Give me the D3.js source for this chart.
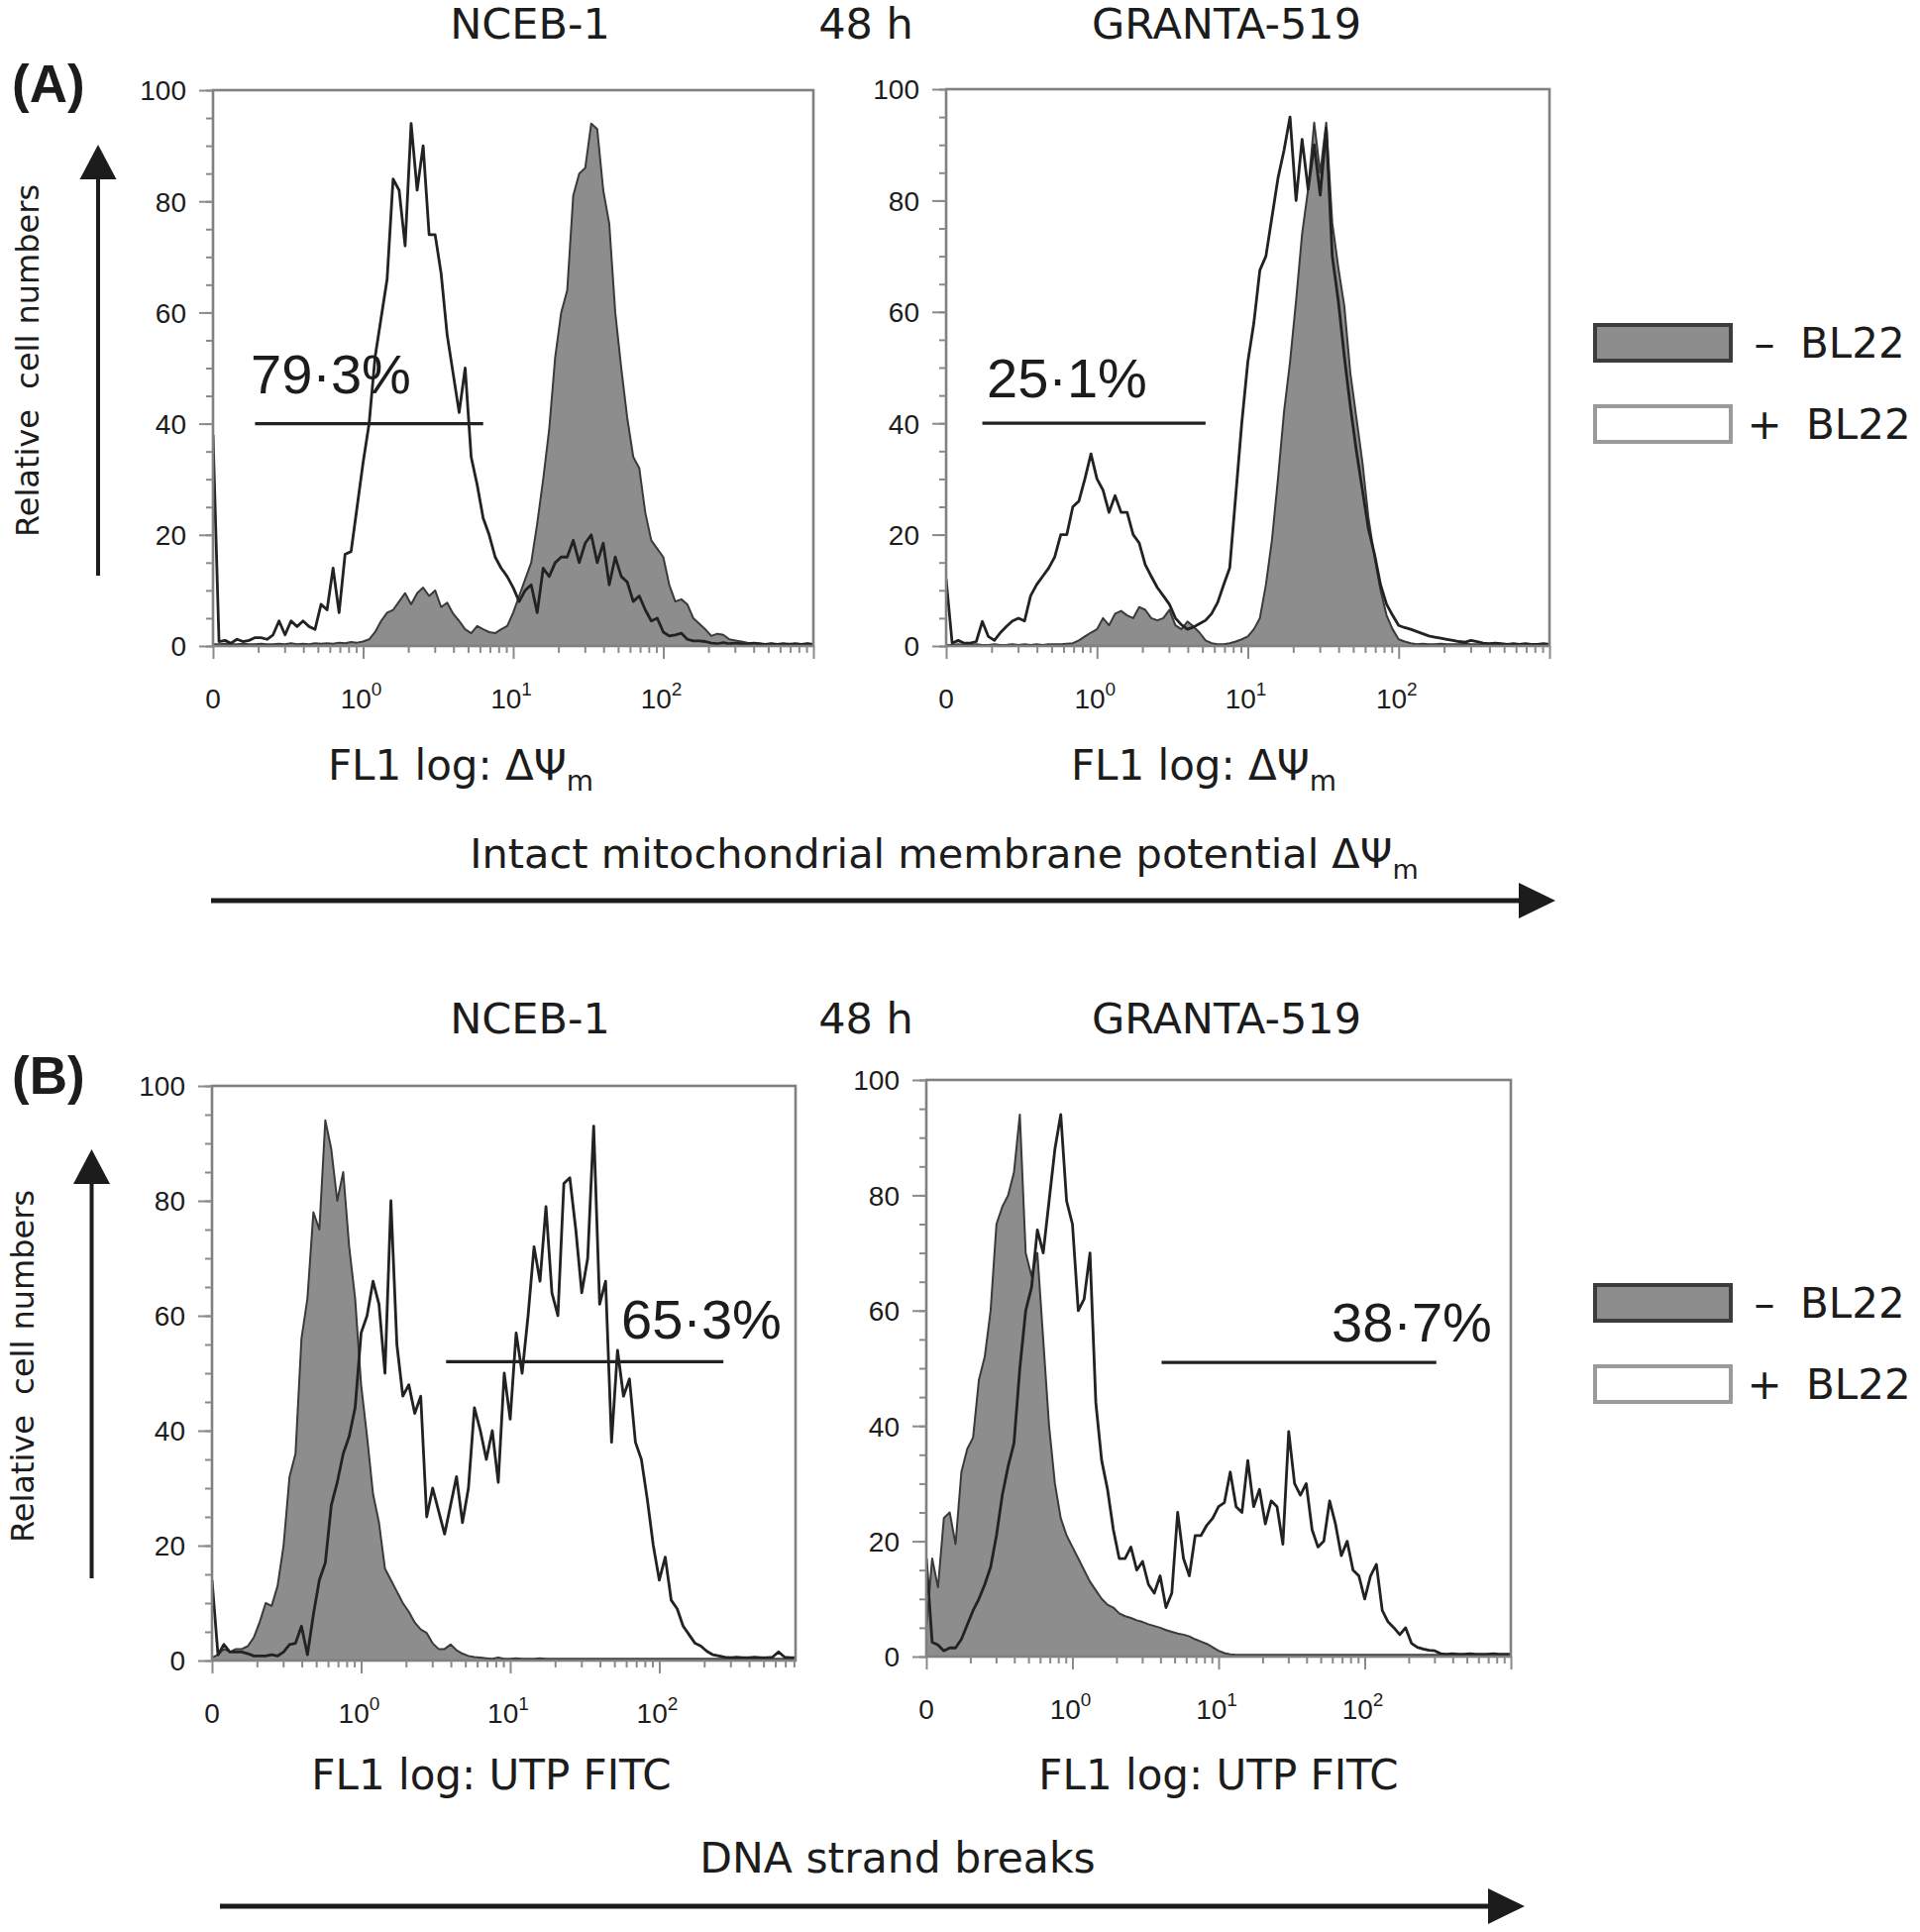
<!DOCTYPE html>
<html><head><meta charset="utf-8">
<script src="https://cdn.jsdelivr.net/npm/d3@7"></script>
<style>
html,body{margin:0;padding:0;background:#fff;}
svg{display:block;}
</style></head><body>
<svg id="chart" width="1938" height="1950"></svg>
<script>
// ---------------- DATA ----------------
// channels: log10 position of first channel and channel width (decades)
const channelStart = -1;
const channelStep = 0.04;

// Panel A, NCEB-1 (mitochondrial membrane potential)
const aNcebMinus = [0.3,0.3,0.4,0.3,0.3,0.4,0.3,0.3,0.4,0.3, 0.3,0.4,0.3,0.5,0.3,0.4,0.3,0.5,0.4,0.5,
  0.4,0.6,0.5,0.7,0.6,0.8,1.2,2.5,4.5,6, 6.5,8,9.5,7.5,9.5,10.5,9,10,7,7.8,
  5.8,4.5,3,2.3,3.6,3,2.5,2.3,3,3.6, 6,9,12,15,22,30,39,52,60,64,
  81,85,86,94,93,82,76,60,50,41, 34,32,24,19,17.5,16,11,8,8.4,7.5,
  5,4,3,1.8,2.2,2,1.2,1,0.8,0.6, 0.5,0.4,0.3,0.4,0.3,0.3,0.4,0.3,0.3,0.4,0.3];
const aNcebPlus = [38,0.8,1,0.5,1.2,0.8,1,1.5,1.5,1.2, 2,4.5,2,4.5,3.5,4.5,3.5,3,7.5,6.5,
  14,6,16.5,17,25,33,40,52,59,66, 84,82,72,94,82,90,74,74,67,56,
  49,42,50,34,29,23,20,16,14,12.5, 10.5,8,10,11,6,14,12.5,15,16,16,
  19,15,18.5,20,15,18.5,11,16,12.5,11.5, 8,9,6.5,4.5,5,2.5,1.8,2,2.3,1.2,
  0.9,0.9,0.8,0.5,0.4,0.6,0.4,0.5,0.4,0.3, 0.5,0.4,0.3,0.4,0.3,0.4,0.3,0.4,0.3,0.4,0.3];

// Panel A, GRANTA-519
const aGrantaMinus = [0.2,0.2,0.3,0.2,0.2,0.3,0.2,0.2,0.3,0.2, 0.2,0.3,0.2,0.3,0.2,0.3,0.2,0.3,0.3,0.3,
  0.4,0.5,1,1.7,2.4,3,5,3.7,5.8,6.3, 5.5,5,7,6.5,5,4.6,5,6.5,3.7,3,
  4.4,3.5,2.4,1,0.5,0.3,0.3,0.5,0.8,1.2, 1.7,3,5,11,19,30,42,51,62,74,
  82,94,85,94,76,68,61,49,41,33, 23,16,10,5.5,3,1.2,0.8,0.5,0.3,0.4,
  0.3,0.3,0.4,0.3,0.3,0.3,0.4,0.3,0.3,0.3, 0.3,0.3,0.3,0.3,0.3,0.3,0.3,0.3,0.3,0.3,0.3];
const aGrantaPlus = [12,0.5,1,0.5,0.5,0.8,4.4,1.7,1,2.4, 3.5,4.5,5,4.5,9,11,12.5,14,16,20,
  20,25,26,30,34.5,30,28,24,27,24, 24,20,18.5,14.6,12.5,10.5,9,7.5,5,3.8,
  3,3.4,4,4.6,5.8,7.8,11,14,27,40, 51,58,67.5,70,77,84,89,95,80,91,
  82,90,81,93,70,62,52,43,35,28, 21,16.5,11,7.5,5.5,3.7,3.3,3,2.6,2.2,
  1.8,1.6,1.4,1.2,1,0.8,0.7,1,0.8,0.5, 0.4,0.5,0.4,0.3,0.4,0.3,0.4,0.3,0.3,0.4,0.3];

// Panel B, NCEB-1 (DNA strand breaks)
const bNcebMinus = [0.5,1,2,1.5,2,2,2.5,4,6.7,10, 9.5,13,20,32,36,56,63,78,75,94,
  89,80,85,72,63,48,39,29,24,16, 14,12,10,8.5,6.6,5.4,4.8,3,2,2,
  2.8,1.8,1.2,0.8,0.6,0.5,0.4,0.3,0.5,0.3, 0.3,0.4,0.3,0.3,0.3,0.4,0.3,0.3,0.3,0.3,
  0.3,0.3,0.3,0.3,0.3,0.3,0.3,0.3,0.3,0.3, 0.3,0.3,0.3,0.3,0.3,0.3,0.3,0.3,0.3,0.3,
  0.3,0.3,0.3,0.3,0.3,0.3,0.3,0.3,0.3,0.3, 0.3,0.3,0.3,0.3,0.3,0.3,0.3,0.3,0.3,0.3,0.3];
const bNcebPlus = [14,1,2.8,1.5,1.5,1.5,1.2,0.8,0.8,0.8, 1,0.8,1.5,2.8,3,6,1,8,14,17,
  27,31,36,39,44,57,60,66,62,50, 80,55,46,48,43,46,25,30,26,22,
  27,32,24,30,44,40,35,40,31,50, 42,57,50,60,72,66,79,64,60,83,
  84,75,64,70,93,62,66,38,54,46, 49,38,35,28,20,14,18,10.5,9,6,
  4.5,3,2.5,1.6,1,0.8,0.6,0.5,0.6,0.5, 0.5,0.6,0.5,0.5,0.6,1.5,0.6,0.5,0.5,0.5,0.5];

// Panel B, GRANTA-519
const bGrantaMinus = [5,17,12,24,25,19.5,32,36,38,48, 52,60,75,78,80,84,94,70,66,70,
  55,40,30,24,21,19,17,15,13,11.5, 10,9,8.5,7.5,7,6.7,6.3,6,5.6,5.3,
  5,4.6,4.3,4,3.8,3.5,3,2.6,2.2,1.6, 1,0.6,0.4,0.3,0.3,0.3,0.3,0.3,0.3,0.3,
  0.3,0.3,0.3,0.3,0.3,0.3,0.3,0.3,0.3,0.3, 0.3,0.3,0.3,0.3,0.3,0.3,0.3,0.3,0.3,0.3,
  0.3,0.3,0.3,0.3,0.3,0.3,0.3,0.3,0.3,0.3, 0.3,0.3,0.3,0.3,0.3,0.3,0.3,0.3,0.3,0.3,0.3];
const bGrantaPlus = [17,2.5,2,1,1.5,1.5,3,5.5,8,10, 12.5,15.5,21,28,33,37,50,60,64,74,
  70,79,88,94,79,75,60,62,70,44, 34,29,22,17,17,19,15,16.5,12.5,11,
  14,8.5,11,25,17,14,21,21,22.8,24, 26,26.7,32,26,25,34,26,29,23,27,
  26,19.5,39,30,28,30,22,19,20,27, 23,17.5,20,15,14,10,14,16,8,6,
  5,3.8,5,2.3,1.6,1.3,1.1,1,0.5,0.4, 0.5,0.4,0.4,0.5,0.4,0.4,0.4,0.5,0.4,0.4,0.4];

// gates: [from log10, to log10, level %]
const gateANceb = [-0.72, 0.80, 40];
const gateAGranta = [-0.76, 0.72, 40];
const gateBNceb = [0.57, 2.43, 52];
const gateBGranta = [0.61, 2.49, 51];

const percentLabels = ["79·3%", "25·1%", "65·3%", "38·7%"];
const cellLines = ["NCEB-1", "48 h", "GRANTA-519"];
const legendLabels = [["–", "BL22"], ["+", "BL22"]];
const yTicks = [0, 20, 40, 60, 80, 100];
const xDecades = [0, 1, 2];

// ---------------- LAYOUT / STYLE ----------------
const SANS = '"Liberation Sans", Arial, Helvetica, sans-serif';
const DV = '"DejaVu Sans", Verdana, sans-serif';
const INK = '#1c1c1c';

const panels = [
  {id:'aN', x0:215, x1:821, y0:91, y1:652, maxLog:3, minus:aNcebMinus, plus:aNcebPlus, gate:gateANceb,
   pct:percentLabels[0], pctX:253, pctY:397, axisLabel:'dpsi', axisLabelX:465, axisLabelY:787},
  {id:'aG', x0:955, x1:1564, y0:90, y1:652, maxLog:3, minus:aGrantaMinus, plus:aGrantaPlus, gate:gateAGranta,
   pct:percentLabels[1], pctX:996, pctY:401, axisLabel:'dpsi', axisLabelX:1215, axisLabelY:787},
  {id:'bN', x0:214, x1:803, y0:1096, y1:1676, maxLog:2.914, minus:bNcebMinus, plus:bNcebPlus, gate:gateBNceb,
   pct:percentLabels[2], pctX:627, pctY:1351, axisLabel:'utp', axisLabelX:496, axisLabelY:1806},
  {id:'bG', x0:935, x1:1525, y0:1090, y1:1672, maxLog:3, minus:bGrantaMinus, plus:bGrantaPlus, gate:gateBGranta,
   pct:percentLabels[3], pctX:1344, pctY:1354, axisLabel:'utp', axisLabelX:1230, axisLabelY:1806}
];

const svg = d3.select('#chart');
svg.append('rect').attr('width', 1938).attr('height', 1950).attr('fill', '#fff');
const defs = svg.append('defs');

function drawPanel(p) {
  const x = d3.scaleLog().domain([0.1, Math.pow(10, p.maxLog)]).range([p.x0, p.x1]);
  const y = d3.scaleLinear().domain([0, 100]).range([p.y1, p.y0]);
  const g = svg.append('g');

  defs.append('clipPath').attr('id', 'clip-' + p.id)
    .append('rect').attr('x', p.x0).attr('y', p.y0 - 4).attr('width', p.x1 - p.x0).attr('height', p.y1 - p.y0 + 4);

  const pts = vals => vals.map((v, i) => ({c: Math.pow(10, channelStart + i * channelStep), v}));
  const area = d3.area().x(d => x(d.c)).y0(y(0)).y1(d => y(d.v));
  const line = d3.line().x(d => x(d.c)).y(d => y(d.v));

  const plot = g.append('g').attr('clip-path', `url(#clip-${p.id})`);
  plot.append('path').datum(pts(p.minus)).attr('d', area)
    .attr('fill', '#8d8d8d').attr('stroke', '#3a3a3a').attr('stroke-width', 2).attr('stroke-linejoin', 'round');
  plot.append('path').datum(pts(p.plus)).attr('d', line)
    .attr('fill', 'none').attr('stroke', '#222').attr('stroke-width', 2.8).attr('stroke-linejoin', 'round');

  // frame
  g.append('rect').attr('x', p.x0).attr('y', p.y0).attr('width', p.x1 - p.x0).attr('height', p.y1 - p.y0)
    .attr('fill', 'none').attr('stroke', '#808080').attr('stroke-width', 2.6);

  // y axis: minor + major ticks
  const yMinor = g.append('g').attr('transform', `translate(${p.x0},0)`)
    .call(d3.axisLeft(y).tickValues(d3.range(0, 101, 5)).tickSize(7).tickFormat(''));
  const yMajor = g.append('g').attr('transform', `translate(${p.x0},0)`)
    .call(d3.axisLeft(y).tickValues(yTicks).tickSize(14).tickPadding(13));
  [yMinor, yMajor].forEach(a => {
    a.select('.domain').remove();
    a.selectAll('line').attr('stroke', '#8a8a8a').attr('stroke-width', 2);
  });
  yMajor.selectAll('text').attr('font-family', SANS).attr('font-size', 28).attr('fill', INK).attr('dy', '0.35em');

  // x axis: log minor + decade ticks
  const minor = [];
  for (let k = -1; k <= 2; k++) for (let m = 2; m <= 9; m++) {
    const v = m * Math.pow(10, k);
    if (Math.log10(v) <= p.maxLog) minor.push(v);
  }
  const majors = [0.1, 1, 10, 100, 1000].filter(v => Math.log10(v) <= p.maxLog + 1e-9);
  const xMinor = g.append('g').attr('transform', `translate(0,${p.y1})`)
    .call(d3.axisBottom(x).tickValues(minor).tickSize(7).tickFormat(''));
  const xMajor = g.append('g').attr('transform', `translate(0,${p.y1})`)
    .call(d3.axisBottom(x).tickValues(majors).tickSize(13).tickFormat(''));
  [xMinor, xMajor].forEach(a => {
    a.select('.domain').remove();
    a.selectAll('line').attr('stroke', '#8a8a8a').attr('stroke-width', 2);
  });

  // x labels
  const lab = g.append('g').attr('font-family', SANS).attr('fill', INK);
  lab.append('text').attr('x', x(0.1)).attr('y', p.y1 + 63).attr('text-anchor', 'middle')
    .attr('font-size', 28).text('0');
  xDecades.forEach(k => {
    const t = lab.append('text').attr('x', x(Math.pow(10, k)) - 2).attr('y', p.y1 + 63)
      .attr('text-anchor', 'middle').attr('font-size', 28);
    t.append('tspan').text('10');
    t.append('tspan').attr('font-size', 19).attr('dy', -13).text(String(k));
  });

  // gate line + percentage
  g.append('line')
    .attr('x1', x(Math.pow(10, p.gate[0]))).attr('x2', x(Math.pow(10, p.gate[1])))
    .attr('y1', y(p.gate[2])).attr('y2', y(p.gate[2]))
    .attr('stroke', '#222').attr('stroke-width', 3.2);
  g.append('text').attr('x', p.pctX).attr('y', p.pctY)
    .attr('font-family', SANS).attr('font-size', 56).attr('fill', INK).text(p.pct);

  // axis label
  const al = g.append('text').attr('x', p.axisLabelX).attr('y', p.axisLabelY)
    .attr('text-anchor', 'middle').attr('font-family', DV).attr('font-size', 42).attr('fill', INK);
  if (p.axisLabel === 'dpsi') {
    al.append('tspan').text('FL1 log: ΔΨ');
    al.append('tspan').attr('font-size', 28).attr('dy', 11).text('m');
  } else {
    al.text('FL1 log: UTP FITC');
  }
}
panels.forEach(drawPanel);

// ---------- section texts ----------
function sectionHeader(baseY) {
  const cx = [535, 874, 1238];
  cellLines.forEach((t, i) => {
    svg.append('text').attr('x', cx[i]).attr('y', baseY).attr('text-anchor', 'middle')
      .attr('font-family', DV).attr('font-size', 43).attr('fill', INK).text(t);
  });
}
sectionHeader(39);
sectionHeader(1043);

svg.append('text').attr('x', 12).attr('y', 103).attr('font-family', SANS).attr('font-weight', 'bold')
  .attr('font-size', 53).attr('fill', INK).text('(A)');
svg.append('text').attr('x', 12).attr('y', 1104).attr('font-family', SANS).attr('font-weight', 'bold')
  .attr('font-size', 53).attr('fill', INK).text('(B)');

// y titles with vertical arrows
function yTitle(cx, cy, ax, yBottom, yTip) {
  svg.append('text').attr('transform', `translate(${cx},${cy}) rotate(-90)`).attr('text-anchor', 'middle')
    .attr('font-family', DV).attr('font-size', 32).attr('fill', INK)
    .attr('xml:space', 'preserve').style('white-space', 'pre').text('Relative  cell numbers');
  svg.append('line').attr('x1', ax).attr('x2', ax).attr('y1', yBottom).attr('y2', yTip + 32)
    .attr('stroke', INK).attr('stroke-width', 4);
  svg.append('path').attr('d', `M${ax - 18.5},${yTip + 35} L${ax},${yTip} L${ax + 18.5},${yTip + 35} Z`).attr('fill', INK);
}
yTitle(39, 364, 99, 581, 146);
yTitle(34, 1379, 92.5, 1593, 1160);

// x titles with horizontal arrows
function xArrow(x1, xTip, yy) {
  svg.append('line').attr('x1', x1).attr('x2', xTip - 34).attr('y1', yy).attr('y2', yy)
    .attr('stroke', INK).attr('stroke-width', 5);
  svg.append('path').attr('d', `M${xTip - 37},${yy - 18} L${xTip},${yy} L${xTip - 37},${yy + 18} Z`).attr('fill', INK);
}
const t1 = svg.append('text').attr('x', 953).attr('y', 876).attr('text-anchor', 'middle')
  .attr('font-family', DV).attr('font-size', 41.5).attr('fill', INK);
t1.append('tspan').text('Intact mitochondrial membrane potential ΔΨ');
t1.append('tspan').attr('font-size', 27).attr('dy', 11).text('m');
xArrow(213, 1570, 909);
svg.append('text').attr('x', 906).attr('y', 1890).attr('text-anchor', 'middle')
  .attr('font-family', DV).attr('font-size', 42.5).attr('fill', INK).text('DNA strand breaks');
xArrow(222, 1539, 1924);

// legends
function legend(top) {
  const boxes = [{y: top, fill: '#8d8d8d', stroke: '#3c3c3c'}, {y: top + 82, fill: '#ffffff', stroke: '#9a9a9a'}];
  boxes.forEach((b, i) => {
    svg.append('rect').attr('x', 1610).attr('y', b.y).attr('width', 137).attr('height', 36)
      .attr('fill', b.fill).attr('stroke', b.stroke).attr('stroke-width', 4);
    svg.append('text').attr('x', 1781).attr('y', b.y + 33).attr('text-anchor', 'middle')
      .attr('font-family', DV).attr('font-size', 42).attr('fill', INK).text(legendLabels[i][0]);
    svg.append('text').attr('x', i === 0 ? 1817 : 1823).attr('y', b.y + 33)
      .attr('font-family', DV).attr('font-size', 42).attr('fill', INK).text(legendLabels[i][1]);
  });
}
legend(328);
legend(1297);
</script>
</body></html>
